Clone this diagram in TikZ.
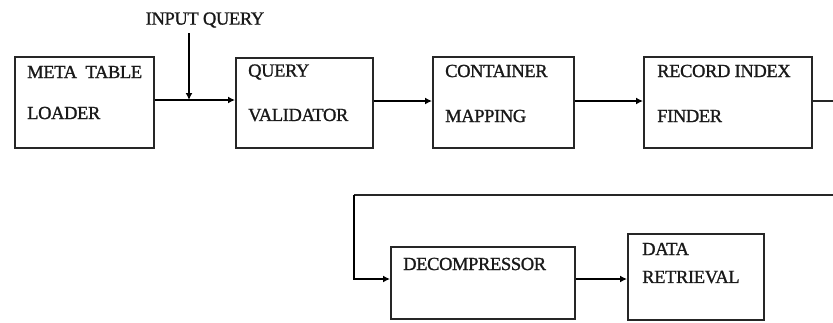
\documentclass[tikz,border=0pt]{standalone}
\usepackage{fontspec}
\setmainfont{Liberation Serif}
\newfontfamily\lblfont{Liberation Serif}[FakeBold=1.2,LetterSpace=-2]
\usetikzlibrary{arrows.meta}
\begin{document}
\begin{tikzpicture}[x=1pt,y=-1pt,
  blk/.style={draw=black!85,line width=1.7pt,inner sep=0pt,anchor=north west},
  lbl/.style={anchor=west,inner sep=0pt,font=\lblfont\fontsize{18.5}{20}\selectfont,text=black!90},
  flow/.style={line width=2.6pt,-{Latex[length=7pt,width=7pt]}},
  thin/.style={line width=1.5pt,draw=black!85}]
\useasboundingbox (0,0) rectangle (833,322);
\clip (0,0) rectangle (833,322);
% boxes
\node[blk,minimum width=139pt,minimum height=91pt] (b1) at (14,56) {};
\node[blk,minimum width=137pt,minimum height=90pt] (b2) at (235,57) {};
\node[blk,minimum width=141pt,minimum height=91pt] (b3) at (432,56) {};
\node[blk,minimum width=168pt,minimum height=91pt] (b4) at (643,56) {};
\node[blk,minimum width=184pt,minimum height=72pt] (b5) at (390,246) {};
\node[blk,minimum width=136pt,minimum height=86pt] (b6) at (627,233) {};
% labels
\node[lbl] (t1a) at (27,72) {META\ \ TABLE};
\node[lbl] (t1b) at (27,113) {LOADER};
\node[lbl] (t2a) at (248,72) {QUERY};
\node[lbl] (t2b) at (248,115) {VALIDATOR};
\node[lbl] (t3a) at (445,71) {CONTAINER};
\node[lbl] (t3b) at (445,116) {MAPPING};
\node[lbl] (t4a) at (657,71) {RECORD INDEX};
\node[lbl] (t4b) at (657,116) {FINDER};
\node[lbl] (t5) at (403,264) {DECOMPRESSOR};
\node[lbl] (t6a) at (642,249) {DATA};
\node[lbl] (t6b) at (642,277) {RETRIEVAL};
\node[lbl,anchor=center] (iq) at (205,20) {INPUT QUERY};
% connectors
\coordinate (j) at (189,100);
\coordinate (iqtop) at (189,33);
\draw[flow] (iqtop) -- (j);
\draw[flow] (b1.east |- j) -- (b2.west |- j);
\coordinate (m) at (0,101);
\draw[flow] (b2.east |- m) -- (b3.west |- m);
\draw[flow] (b3.east |- m) -- (b4.west |- m);
\coordinate (r1) at (850,101);
\coordinate (r2) at (850,195);
\coordinate (l1) at (354,195);
\coordinate (l2) at (354,279);
\draw[thin] (b4.east |- m) -- (r1) -- (r2) -- (l1);
\draw[flow,line join=miter] (l1) -- (l2) -- (b5.west |- l2);
\draw[flow] (b5.east |- l2) -- (b6.west |- l2);
\end{tikzpicture}
\end{document}
